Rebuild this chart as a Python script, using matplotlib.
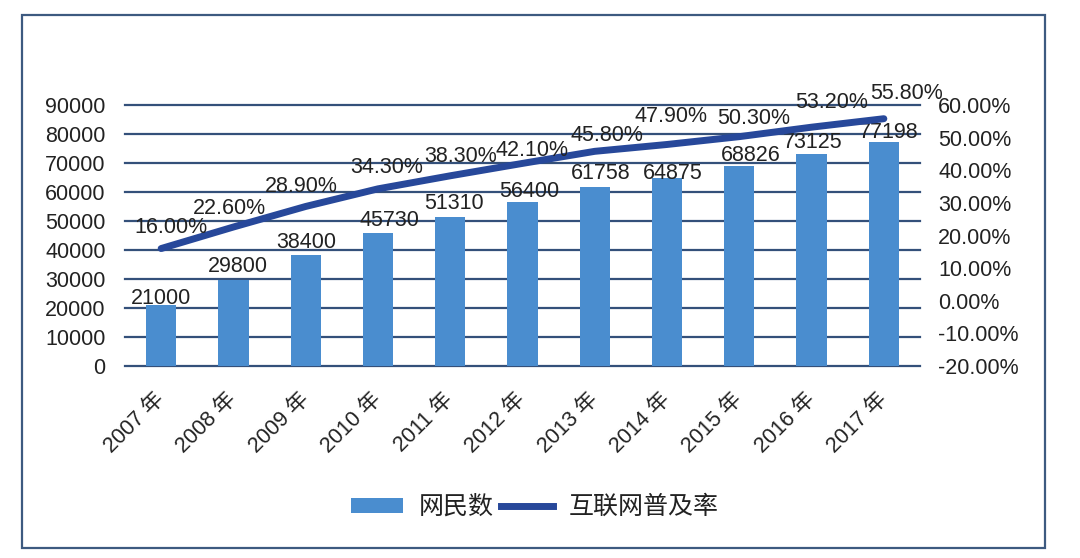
import matplotlib
matplotlib.use("Agg")
import matplotlib.pyplot as plt
from matplotlib.patches import Rectangle, Patch
from matplotlib.lines import Line2D
from matplotlib.ticker import FuncFormatter

plt.rcParams['font.family'] = ['Liberation Sans', 'Noto Sans CJK SC', 'DejaVu Sans']

years = ["2007 年", "2008 年", "2009 年", "2010 年", "2011 年", "2012 年",
         "2013 年", "2014 年", "2015 年", "2016 年", "2017 年"]
netizens = [21000, 29800, 38400, 45730, 51310, 56400, 61758, 64875, 68826, 73125, 77198]
penetration = [16.0, 22.6, 28.9, 34.3, 38.3, 42.1, 45.8, 47.9, 50.3, 53.2, 55.8]
bar_name = "网民数"
line_name = "互联网普及率"

# label offsets in pixels (style only)
bar_lbl_off = [(0, 7), (4, 13), (1, 12), (11, 13), (4, 14), (7, 11),
               (6, 13), (6, 4), (11, 11), (1, 11), (5, 10)]
line_lbl_off = [(10, 21), (-4, 19), (-4, 20), (9, 21), (10, 19), (9, 13),
                (12, 16), (4, 28), (14, 18), (20, 25), (23, 25)]

BAR_C = "#4a8dcf"
LINE_C = "#27489a"
GRID_C = "#34507a"
TXT_C = "#222222"
FS = 15.5

fig = plt.figure(figsize=(10.8, 5.58), dpi=100)
ax = fig.add_axes([125/1080, 1-366/558, (920-125)/1080, (366-105)/558])
x = list(range(len(years)))

ax.set_ylim(0, 90000)
ax.set_xlim(-0.5, len(years) - 0.5)
ax.set_yticks(range(0, 90001, 10000))
ax.grid(axis='y', color=GRID_C, lw=1.6, zorder=0)
ax.set_axisbelow(True)
bars = ax.bar(x, netizens, width=0.42, color=BAR_C, zorder=2)
for s in ax.spines.values():
    s.set_visible(False)
ax.tick_params(axis='y', length=0, pad=14, labelsize=FS, labelcolor=TXT_C)
ax.set_xticks(x)
ax.set_xticklabels(years, rotation=45, ha='right', va='center', rotation_mode='anchor',
                   fontsize=FS, color=TXT_C)
ax.tick_params(axis='x', length=0, pad=22)
for gl in ax.yaxis.get_gridlines():
    gl.set_clip_on(False)

for xi, v, (dx, dy) in zip(x, netizens, bar_lbl_off):
    ax.annotate(str(v), (xi, v), xytext=(dx, dy), textcoords='offset pixels',
                ha='center', va='center', fontsize=FS, color=TXT_C, zorder=5)

ax2 = ax.twinx()
ax2.set_ylim(-20, 60)
ax2.set_yticks(range(-20, 61, 10))
ax2.yaxis.set_major_formatter(FuncFormatter(lambda v, p: f"{v:.2f}%"))
ax2.tick_params(axis='y', length=0, pad=13, labelsize=FS, labelcolor=TXT_C)
for s in ax2.spines.values():
    s.set_visible(False)
ax2.plot(x, penetration, color=LINE_C, lw=5, solid_capstyle='round', zorder=4)
for xi, v, (dx, dy) in zip(x, penetration, line_lbl_off):
    ax2.annotate(f"{v:.2f}%", (xi, v), xytext=(dx, dy), textcoords='offset pixels',
                 ha='center', va='center', fontsize=FS, color=TXT_C, zorder=6)

handles = [Patch(facecolor=BAR_C, edgecolor='none'),
           Line2D([0], [0], color=LINE_C, lw=5)]
leg = fig.legend(handles, [bar_name, line_name], loc='center', bbox_to_anchor=(0.495, 1-507/558),
                 ncol=2, frameon=False, handlelength=2.1, handleheight=0.55,
                 handletextpad=0.6, columnspacing=0.3,
                 prop={'family': ['Noto Sans CJK SC', 'DejaVu Sans'], 'size': 18})
for t in leg.get_texts():
    t.set_color(TXT_C)

fig.patches.append(Rectangle((22/1080, 1-548/558), (1045-22)/1080, (548-15)/558,
                             transform=fig.transFigure, fill=False, edgecolor="#3d5a80", lw=1.6))

fig.savefig("out.png", dpi=100)
